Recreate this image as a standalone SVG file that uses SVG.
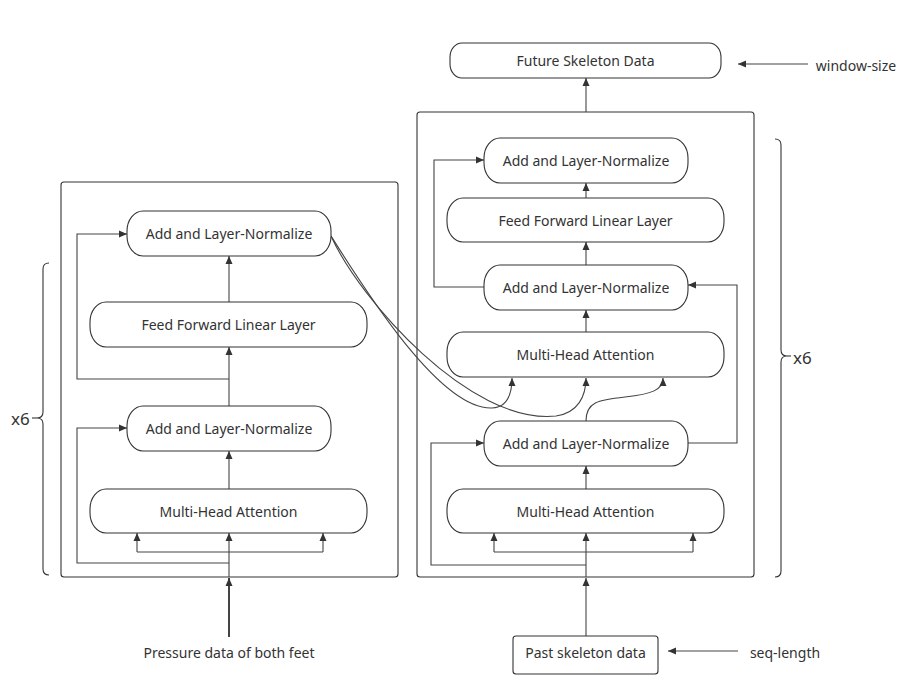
<svg xmlns="http://www.w3.org/2000/svg" width="905" height="689" viewBox="0 0 905 689">
<style>
.node{fill:#fff;stroke:#333;stroke-width:1.1}
.box{fill:none;stroke:#333;stroke-width:1.1}
.t{font-family:"Noto Sans","Liberation Sans",sans-serif;font-size:14px;fill:#333;text-anchor:middle;dominant-baseline:central}
.big{font-family:"Noto Sans","Liberation Sans",sans-serif;font-size:17px;fill:#333;dominant-baseline:central}
.c{fill:none;stroke:#444;stroke-width:1.1}
.ca{fill:none;stroke:#444;stroke-width:1.1;marker-end:url(#ah)}
</style>
<defs>
<marker id="ah" markerUnits="userSpaceOnUse" markerWidth="9" markerHeight="8" refX="8" refY="4" orient="auto">
<path d="M0,0.5 L8,4 L0,7.5 z" fill="#333"/>
</marker>
</defs>
<rect width="905" height="689" fill="#fff"/>

<g id="left-encoder">
<rect class="box" x="61" y="182" width="337" height="395" rx="3"/>
</g>
<g id="right-decoder">
<rect class="box" x="417" y="112" width="337" height="465" rx="3"/>
</g>

<g id="braces" fill="none" stroke="#333" stroke-width="1.1">
<path d="M49,263 Q43,263 43,269 V412 Q43,418 37,418 Q43,418 43,424 V569 Q43,575 49,575"/>
<path d="M32,418 H37"/>
<path d="M775,139 Q781,139 781,145 V350 Q781,356 787,356 Q781,356 781,362 V571 Q781,577 775,577"/>
<path d="M787,356 H791"/>
</g>

<g id="connectors">
<!-- left -->
<path class="ca" d="M229,302 V256"/>
<path class="ca" d="M229,406 V347"/>
<path class="ca" d="M229,379 H77 V234 H127"/>
<path class="ca" d="M229,489 V451"/>
<path class="ca" d="M229,577 V533"/>
<path class="ca" d="M229,563 H77 V428 H127"/>
<path class="c" d="M137,552 H323"/>
<path class="ca" d="M137,552 V533"/>
<path class="ca" d="M323,552 V533"/>
<path class="ca" d="M229,637 V578" style="stroke-width:2"/>
<!-- right -->
<path class="ca" d="M586,112 V78"/>
<path class="ca" d="M586,198 V183"/>
<path class="ca" d="M586,265 V242"/>
<path class="ca" d="M586,332 V310"/>
<path class="ca" d="M586,489 V466"/>
<path class="ca" d="M586,577 V533"/>
<path class="ca" d="M586,636 V578"/>
<path class="c" d="M494,552 H693"/>
<path class="ca" d="M494,552 V533"/>
<path class="ca" d="M693,552 V533"/>
<path class="ca" d="M586,565 H431 V443 H484"/>
<path class="ca" d="M484,287 H434 V160 H484"/>
<path class="ca" d="M688,443 H737 V285 H688"/>
<path class="ca" d="M808,64 H738"/>
<path class="ca" d="M738,651 H668"/>
<!-- cross connections -->
<path class="ca" d="M331,236 C365,290 440,410 492,408 C508,407 512,393 512,378"/>
<path class="ca" d="M331,236 C360,300 470,425 556,416 C578,413 586,396 586,378"/>
<path class="ca" d="M586,421 C586,402 598,400 625,397 C652,394 663,390 663,378"/>
</g>

<g id="n-left-add-top"><rect class="node" x="127" y="211" width="204" height="45" rx="16" ry="20"/><text class="t" x="229" y="233.5">Add and Layer-Normalize</text></g>
<g id="n-left-ff"><rect class="node" x="90" y="302" width="277" height="45" rx="16" ry="20"/><text class="t" x="228.5" y="324.5">Feed Forward Linear Layer</text></g>
<g id="n-left-add-bot"><rect class="node" x="127" y="406" width="204" height="45" rx="16" ry="20"/><text class="t" x="229" y="428.5">Add and Layer-Normalize</text></g>
<g id="n-left-mha"><rect class="node" x="90" y="489" width="277" height="44" rx="16" ry="20"/><text class="t" x="228.5" y="511">Multi-Head Attention</text></g>
<g id="n-pressure"><text class="t" x="229" y="652">Pressure data of both feet</text></g>

<g id="n-future"><rect class="node" x="450" y="43" width="271" height="35" rx="12" ry="14"/><text class="t" x="585.5" y="60.5">Future Skeleton Data</text></g>
<g id="n-right-add-top"><rect class="node" x="484" y="138" width="204" height="45" rx="16" ry="20"/><text class="t" x="586" y="160.5">Add and Layer-Normalize</text></g>
<g id="n-right-ff"><rect class="node" x="447" y="198" width="277" height="44" rx="16" ry="20"/><text class="t" x="585.5" y="220">Feed Forward Linear Layer</text></g>
<g id="n-right-add-mid"><rect class="node" x="484" y="265" width="204" height="45" rx="16" ry="20"/><text class="t" x="586" y="287.5">Add and Layer-Normalize</text></g>
<g id="n-right-mha-top"><rect class="node" x="447" y="332" width="277" height="45" rx="16" ry="20"/><text class="t" x="585.5" y="354.5">Multi-Head Attention</text></g>
<g id="n-right-add-low"><rect class="node" x="484" y="421" width="204" height="45" rx="16" ry="20"/><text class="t" x="586" y="443.5">Add and Layer-Normalize</text></g>
<g id="n-right-mha-bot"><rect class="node" x="447" y="489" width="277" height="44" rx="16" ry="20"/><text class="t" x="585.5" y="511">Multi-Head Attention</text></g>
<g id="n-past"><rect class="node" x="513" y="636" width="145" height="38" rx="3"/><text class="t" x="585.5" y="652">Past skeleton data</text></g>

<g id="labels">
<text class="t" x="856" y="65">window-size</text>
<text class="t" x="785" y="652">seq-length</text>
<text class="big" x="11" y="418">x6</text>
<text class="big" x="793" y="357">x6</text>
</g>
</svg>
